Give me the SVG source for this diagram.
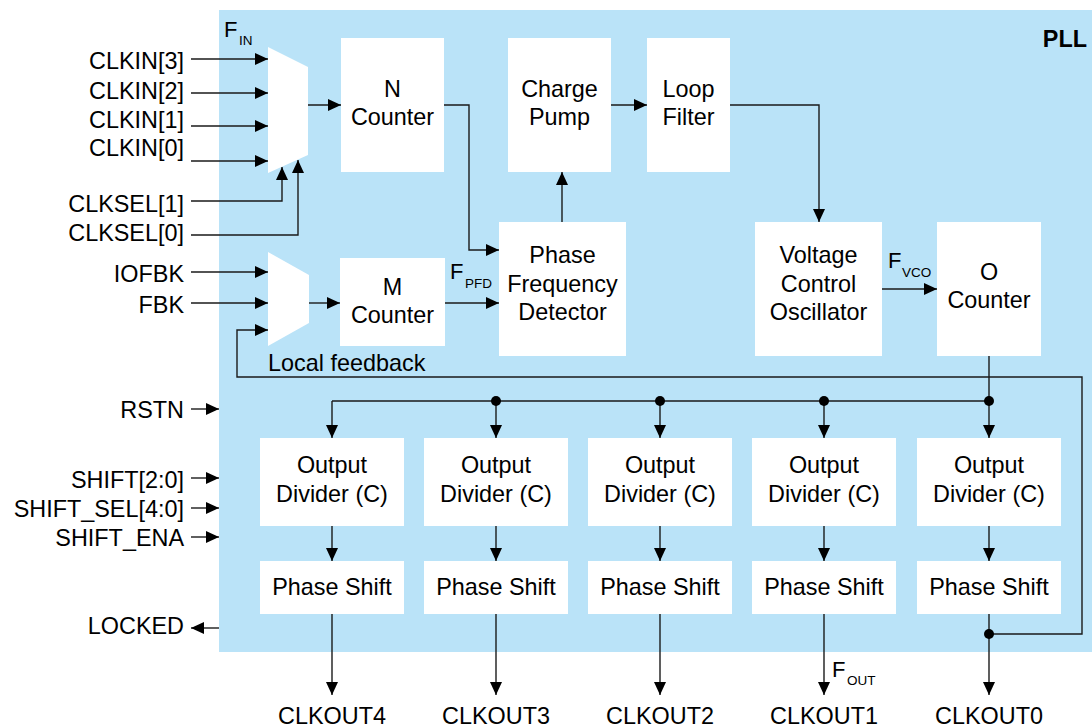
<svg xmlns="http://www.w3.org/2000/svg" width="1092" height="727" viewBox="0 0 1092 727">
<defs>
<marker id="ah" markerUnits="userSpaceOnUse" markerWidth="13" markerHeight="12" refX="13" refY="6" orient="auto">
<path d="M0,0 L13,6 L0,12 z" fill="#000"/>
</marker>
<style>
text{font-family:"Liberation Sans",Arial,sans-serif;fill:#000;}
.t{font-size:23.4px;}
.c{text-anchor:middle;}
.e{text-anchor:end;}
.f{font-size:22px;}
.s{font-size:13.5px;}
.box{fill:#fff;}
.ln{fill:none;stroke:#1a1a1a;stroke-width:1.4;}
.ar{marker-end:url(#ah);}
.dot{fill:#000;}
</style>
</defs>
<rect x="219" y="10" width="873" height="642" fill="#BAE3F8"/>
<text class="t" x="1087" y="47" text-anchor="end" font-weight="bold">PLL</text>

<g id="connectors">
<path class="ln ar" d="M191,59 H268"/>
<path class="ln ar" d="M191,93 H268"/>
<path class="ln ar" d="M191,126 H268"/>
<path class="ln ar" d="M191,161 H268"/>
<path class="ln ar" d="M191,201 H282 V167"/>
<path class="ln ar" d="M191,235 H298 V160"/>
<path class="ln ar" d="M308,105 H341"/>
<path class="ln ar" d="M191,272 H268"/>
<path class="ln ar" d="M191,303 H268"/>
<path class="ln ar" d="M989,634 H1082 V377 H237 V330 H268"/>
<path class="ln ar" d="M309,303 H340"/>
<path class="ln ar" d="M445,303 H499"/>
<path class="ln ar" d="M444,105 H469 V250 H499"/>
<path class="ln ar" d="M562,222 V172"/>
<path class="ln ar" d="M611,105 H647"/>
<path class="ln ar" d="M730,105 H819 V222"/>
<path class="ln ar" d="M882,289 H937"/>
<path class="ln" d="M989,356 V401 H332"/>
<path class="ln ar" d="M332,401 V438"/>
<path class="ln ar" d="M496,401 V438"/>
<path class="ln ar" d="M660,401 V438"/>
<path class="ln ar" d="M824,401 V438"/>
<path class="ln ar" d="M989,401 V438"/>
<path class="ln ar" d="M332,526 V561"/>
<path class="ln ar" d="M496,526 V561"/>
<path class="ln ar" d="M660,526 V561"/>
<path class="ln ar" d="M824,526 V561"/>
<path class="ln ar" d="M989,526 V561"/>
<path class="ln ar" d="M332,614 V695"/>
<path class="ln ar" d="M496,614 V695"/>
<path class="ln ar" d="M660,614 V695"/>
<path class="ln ar" d="M824,614 V695"/>
<path class="ln ar" d="M989,614 V695"/>
<path class="ln ar" d="M191,409 H219"/>
<path class="ln ar" d="M191,478 H219"/>
<path class="ln ar" d="M191,508 H219"/>
<path class="ln ar" d="M191,537 H219"/>
<path class="ln ar" d="M219,628 H191"/>
<circle class="dot" cx="496" cy="401" r="5"/>
<circle class="dot" cx="660" cy="401" r="5"/>
<circle class="dot" cx="824" cy="401" r="5"/>
<circle class="dot" cx="989" cy="401" r="5"/>
<circle class="dot" cx="989" cy="634" r="5"/>
</g>

<g id="inputs">
<text class="t e" x="184" y="69">CLKIN[3]</text>
<text class="t e" x="184" y="98.5">CLKIN[2]</text>
<text class="t e" x="184" y="127.5">CLKIN[1]</text>
<text class="t e" x="184" y="156">CLKIN[0]</text>
<text class="t e" x="184" y="212">CLKSEL[1]</text>
<text class="t e" x="184" y="241">CLKSEL[0]</text>
<text class="t e" x="184" y="281.5">IOFBK</text>
<text class="t e" x="184" y="312.5">FBK</text>
<text class="t e" x="184" y="417.5">RSTN</text>
<text class="t e" x="184" y="488">SHIFT[2:0]</text>
<text class="t e" x="184" y="517">SHIFT_SEL[4:0]</text>
<text class="t e" x="184" y="545.5">SHIFT_ENA</text>
<text class="t e" x="184" y="634">LOCKED</text>
</g>

<g id="freq-labels">
<text class="f" x="224" y="37">F<tspan class="s" x="239" y="45">IN</tspan></text>
<text class="f" x="450" y="279">F<tspan class="s" x="465" y="288">PFD</tspan></text>
<text class="f" x="888" y="268">F<tspan class="s" x="902" y="277">VCO</tspan></text>
<text class="f" x="832" y="677">F<tspan class="s" x="847" y="685">OUT</tspan></text>
<text class="t" x="268" y="370.5">Local feedback</text>
</g>

<g id="mux-in"><polygon class="box" points="268,47 308,67 308,155 268,173"/></g>
<g id="mux-fb"><polygon class="box" points="268,252 309,275 309,323 268,346"/></g>

<g id="n-counter"><rect class="box" x="341" y="38" width="103" height="134"/>
<text class="t c" x="392.5" y="97">N</text><text class="t c" x="392.5" y="125">Counter</text></g>
<g id="charge-pump"><rect class="box" x="508" y="38" width="103" height="134"/>
<text class="t c" x="559.5" y="97">Charge</text><text class="t c" x="559.5" y="125">Pump</text></g>
<g id="loop-filter"><rect class="box" x="647" y="38" width="83" height="134"/>
<text class="t c" x="688.5" y="97">Loop</text><text class="t c" x="688.5" y="125">Filter</text></g>
<g id="pfd"><rect class="box" x="499" y="222" width="127" height="134"/>
<text class="t c" x="562.5" y="263">Phase</text><text class="t c" x="562.5" y="291.5">Frequency</text><text class="t c" x="562.5" y="320">Detector</text></g>
<g id="m-counter"><rect class="box" x="340" y="258" width="105" height="88"/>
<text class="t c" x="392.5" y="295">M</text><text class="t c" x="392.5" y="323">Counter</text></g>
<g id="vco"><rect class="box" x="755" y="222" width="127" height="134"/>
<text class="t c" x="818.5" y="263">Voltage</text><text class="t c" x="818.5" y="291.5">Control</text><text class="t c" x="818.5" y="320">Oscillator</text></g>
<g id="o-counter"><rect class="box" x="937" y="222" width="104" height="134"/>
<text class="t c" x="989" y="280">O</text><text class="t c" x="989" y="308">Counter</text></g>

<g id="div4"><rect class="box" x="260" y="438" width="144" height="88"/>
<text class="t c" x="332" y="472.5">Output</text><text class="t c" x="332" y="501.5">Divider (C)</text></g>
<g id="div3"><rect class="box" x="424" y="438" width="144" height="88"/>
<text class="t c" x="496" y="472.5">Output</text><text class="t c" x="496" y="501.5">Divider (C)</text></g>
<g id="div2"><rect class="box" x="588" y="438" width="144" height="88"/>
<text class="t c" x="660" y="472.5">Output</text><text class="t c" x="660" y="501.5">Divider (C)</text></g>
<g id="div1"><rect class="box" x="752" y="438" width="144" height="88"/>
<text class="t c" x="824" y="472.5">Output</text><text class="t c" x="824" y="501.5">Divider (C)</text></g>
<g id="div0"><rect class="box" x="917" y="438" width="144" height="88"/>
<text class="t c" x="989" y="472.5">Output</text><text class="t c" x="989" y="501.5">Divider (C)</text></g>

<g id="ps4"><rect class="box" x="260" y="561" width="144" height="53"/><text class="t c" x="332" y="595">Phase Shift</text></g>
<g id="ps3"><rect class="box" x="424" y="561" width="144" height="53"/><text class="t c" x="496" y="595">Phase Shift</text></g>
<g id="ps2"><rect class="box" x="588" y="561" width="144" height="53"/><text class="t c" x="660" y="595">Phase Shift</text></g>
<g id="ps1"><rect class="box" x="752" y="561" width="144" height="53"/><text class="t c" x="824" y="595">Phase Shift</text></g>
<g id="ps0"><rect class="box" x="917" y="561" width="144" height="53"/><text class="t c" x="989" y="595">Phase Shift</text></g>

<g id="outputs">
<text class="t c" x="332" y="724">CLKOUT4</text>
<text class="t c" x="496" y="724">CLKOUT3</text>
<text class="t c" x="660" y="724">CLKOUT2</text>
<text class="t c" x="824" y="724">CLKOUT1</text>
<text class="t c" x="989" y="724">CLKOUT0</text>
</g>
</svg>
